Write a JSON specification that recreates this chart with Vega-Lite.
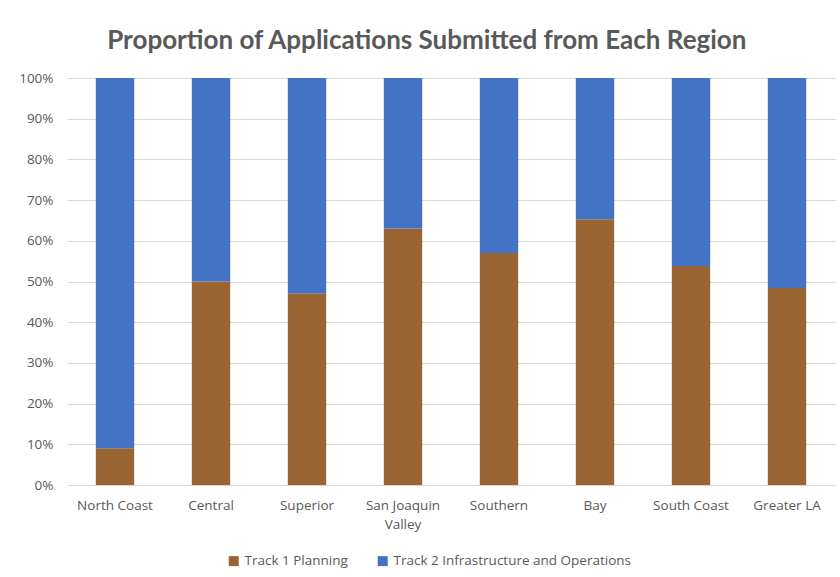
{
  "$schema": "https://vega.github.io/schema/vega-lite/v6.json",
  "width": 768,
  "height": 407,
  "padding": {"left": 18, "top": 28, "right": 5, "bottom": 5},
  "background": "white",
  "title": {
    "text": "Proportion of Applications Submitted from Each Region",
    "font": "Lato",
    "fontSize": 26,
    "fontWeight": "bold",
    "color": "#595959",
    "anchor": "middle",
    "frame": "bounds",
    "offset": 17
  },
  "data": {
    "values": [
      {"region": "North Coast", "track": "Track 1 Planning", "pct": 9.0},
      {"region": "North Coast", "track": "Track 2 Infrastructure and Operations", "pct": 91.0},
      {"region": "Central", "track": "Track 1 Planning", "pct": 50.0},
      {"region": "Central", "track": "Track 2 Infrastructure and Operations", "pct": 50.0},
      {"region": "Superior", "track": "Track 1 Planning", "pct": 47.1},
      {"region": "Superior", "track": "Track 2 Infrastructure and Operations", "pct": 52.9},
      {"region": "San Joaquin Valley", "track": "Track 1 Planning", "pct": 63.0},
      {"region": "San Joaquin Valley", "track": "Track 2 Infrastructure and Operations", "pct": 37.0},
      {"region": "Southern", "track": "Track 1 Planning", "pct": 57.0},
      {"region": "Southern", "track": "Track 2 Infrastructure and Operations", "pct": 43.0},
      {"region": "Bay", "track": "Track 1 Planning", "pct": 65.3},
      {"region": "Bay", "track": "Track 2 Infrastructure and Operations", "pct": 34.7},
      {"region": "South Coast", "track": "Track 1 Planning", "pct": 53.8},
      {"region": "South Coast", "track": "Track 2 Infrastructure and Operations", "pct": 46.2},
      {"region": "Greater LA", "track": "Track 1 Planning", "pct": 48.4},
      {"region": "Greater LA", "track": "Track 2 Infrastructure and Operations", "pct": 51.6}
    ]
  },
  "mark": {"type": "bar", "width": {"band": 0.4}},
  "encoding": {
    "x": {
      "field": "region",
      "type": "nominal",
      "sort": null,
      "scale": {"paddingInner": 0, "paddingOuter": 0},
      "axis": {
        "title": null,
        "labelAngle": 0,
        "labelFont": "Open Sans",
        "labelFontSize": 13.5,
        "labelColor": "#595959",
        "labelPadding": 13,
        "labelLineHeight": 19,
        "ticks": false,
        "domain": false,
        "labelExpr": "datum.label == 'San Joaquin Valley' ? ['San Joaquin', 'Valley'] : datum.label"
      }
    },
    "y": {
      "field": "pct",
      "type": "quantitative",
      "stack": "zero",
      "scale": {"domain": [0, 100], "nice": false},
      "axis": {
        "title": null,
        "values": [0, 10, 20, 30, 40, 50, 60, 70, 80, 90, 100],
        "labelExpr": "datum.value + '%'",
        "labelFont": "Open Sans",
        "labelFontSize": 13.5,
        "labelColor": "#595959",
        "labelPadding": 14,
        "ticks": false,
        "domain": false,
        "gridColor": "#D9D9D9",
        "gridWidth": 1
      }
    },
    "color": {
      "field": "track",
      "type": "nominal",
      "scale": {
        "domain": ["Track 1 Planning", "Track 2 Infrastructure and Operations"],
        "range": ["#996633", "#4472C4"]
      },
      "legend": {
        "title": null,
        "orient": "none",
        "legendX": 160,
        "legendY": 476,
        "direction": "horizontal",
        "symbolType": "square",
        "symbolSize": 100,
        "symbolStrokeWidth": 0,
        "labelFont": "Open Sans",
        "labelFontSize": 13.5,
        "labelColor": "#595959",
        "labelLimit": 400,
        "labelOffset": 4,
        "columnPadding": 28
      }
    },
    "order": {"field": "track", "sort": "ascending"}
  },
  "config": {
    "view": {"stroke": null}
  }
}
